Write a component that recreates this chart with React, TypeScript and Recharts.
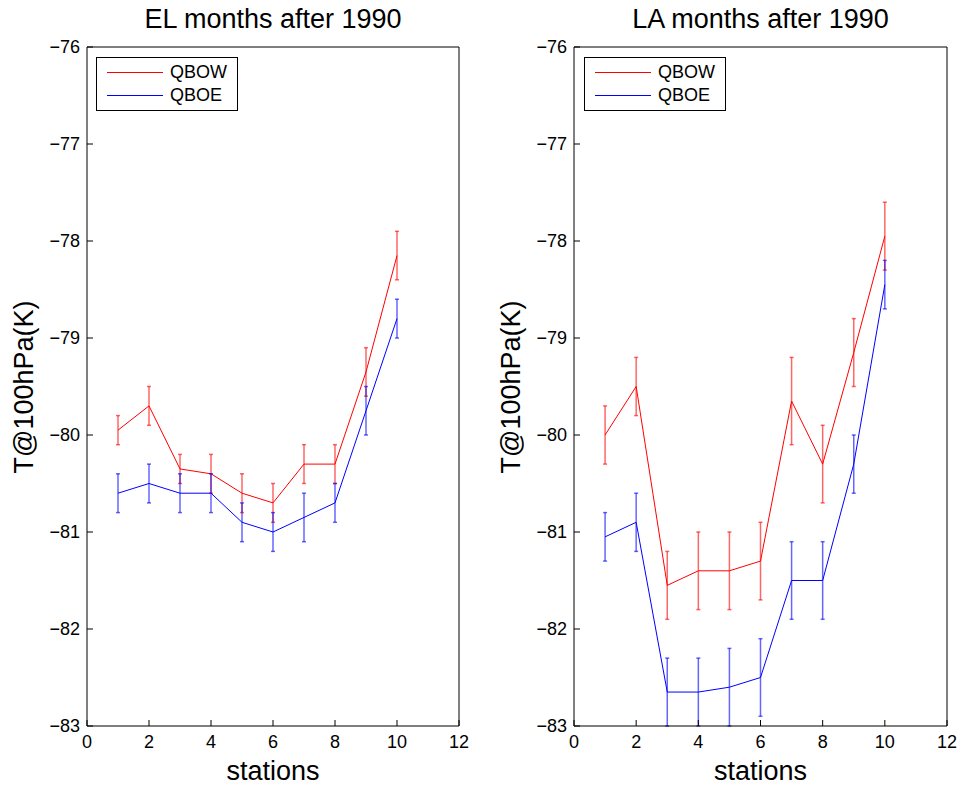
import {
  ComposedChart,
  Line,
  ErrorBar,
  XAxis,
  YAxis,
  Legend,
} from "recharts";

// station index (x)
const stations = [1, 2, 3, 4, 5, 6, 7, 8, 9, 10];

// EL months after 1990
const elQbow = [-79.95, -79.7, -80.35, -80.4, -80.6, -80.7, -80.3, -80.3, -79.35, -78.15];
const elQbowErr = [0.15, 0.2, 0.15, 0.2, 0.2, 0.2, 0.2, 0.2, 0.25, 0.25];
const elQboe = [-80.6, -80.5, -80.6, -80.6, -80.9, -81.0, -80.85, -80.7, -79.75, -78.8];
const elQboeErr = [0.2, 0.2, 0.2, 0.2, 0.2, 0.2, 0.25, 0.2, 0.25, 0.2];

// LA months after 1990
const laQbow = [-80.0, -79.5, -81.55, -81.4, -81.4, -81.3, -79.65, -80.3, -79.15, -77.95];
const laQbowErr = [0.3, 0.3, 0.35, 0.4, 0.4, 0.4, 0.45, 0.4, 0.35, 0.35];
const laQboe = [-81.05, -80.9, -82.65, -82.65, -82.6, -82.5, -81.5, -81.5, -80.3, -78.45];
const laQboeErr = [0.25, 0.3, 0.35, 0.35, 0.4, 0.4, 0.4, 0.4, 0.3, 0.25];

const seriesOrder = ["QBOW", "QBOE"];
const xTicks = [0, 2, 4, 6, 8, 10, 12];
const yTicks = [-83, -82, -81, -80, -79, -78, -77, -76];

const FONT = "'Liberation Sans', Arial, sans-serif";
const tickStyle = { fontSize: 18, fill: "#000", fontFamily: FONT };
const fmt = (v: number) => String(v).replace("-", "\u2212");

type PanelProps = {
  title: string;
  left: number;
  width: number;
  marginLeft: number;
  legendLeft: number;
  qbow: number[];
  qbowErr: number[];
  qboe: number[];
  qboeErr: number[];
};

function LegendBox({ payload }: any) {
  const items = seriesOrder
    .map((name) => (payload || []).find((p: any) => p.value === name))
    .filter(Boolean);
  return (
    <div
      style={{
        border: "1px solid #000",
        background: "#fff",
        width: 140,
        height: 52,
        fontFamily: FONT,
        fontSize: 18,
        position: "relative",
      }}
    >
      {items.map((p: any, i: number) => (
        <div
          key={p.value}
          style={{ position: "absolute", left: 10, top: 3 + i * 23, height: 22, display: "flex", alignItems: "center" }}
        >
          <div style={{ width: 56, height: 1, background: p.color, marginRight: 7 }} />
          <span>{p.value}</span>
        </div>
      ))}
    </div>
  );
}

function Panel({ title, left, width, marginLeft, legendLeft, qbow, qbowErr, qboe, qboeErr }: PanelProps) {
  const data = stations.map((s, i) => ({
    station: s,
    QBOW: qbow[i],
    QBOWerr: qbowErr[i],
    QBOE: qboe[i],
    QBOEerr: qboeErr[i],
  }));
  const plotLeft = marginLeft + 50;
  const plotRight = width - 16;
  return (
    <div style={{ position: "absolute", left, top: 0, width, height: 790 }}>
      <div
        style={{
          position: "absolute",
          left: plotLeft,
          width: plotRight - plotLeft,
          top: 4,
          textAlign: "center",
          fontFamily: FONT,
          fontSize: 27,
        }}
      >
        {title}
      </div>
      <div
        style={{
          position: "absolute",
          left: plotLeft - 63 - 150,
          top: 387 - 16,
          width: 300,
          textAlign: "center",
          fontFamily: FONT,
          fontSize: 27,
          lineHeight: "32px",
          transform: "rotate(-90deg)",
        }}
      >
        T@100hPa(K)
      </div>
      <ComposedChart
        width={width}
        height={790}
        data={data}
        margin={{ top: 46, right: 15, left: marginLeft, bottom: 0 }}
      >
        <XAxis
          xAxisId="b"
          dataKey="station"
          type="number"
          domain={[0, 12]}
          ticks={xTicks}
          tickSize={-6}
          tickMargin={15}
          height={64}
          stroke="#000"
          tick={tickStyle}
          label={{ value: "stations", position: "insideBottom", offset: 10, fontSize: 27, fill: "#000", fontFamily: FONT }}
        />
        <XAxis
          xAxisId="t"
          orientation="top"
          type="number"
          domain={[0, 12]}
          ticks={xTicks}
          tickSize={-6}
          height={1}
          stroke="#000"
          tick={false}
        />
        <YAxis
          yAxisId="l"
          type="number"
          domain={[-83, -76]}
          ticks={yTicks}
          allowDataOverflow
          tickSize={-6}
          tickMargin={13}
          width={50}
          stroke="#000"
          tick={tickStyle}
          tickFormatter={fmt}
        />
        <YAxis
          yAxisId="r"
          orientation="right"
          type="number"
          domain={[-83, -76]}
          ticks={yTicks}
          tickSize={-6}
          width={1}
          stroke="#000"
          tick={false}
        />
        <Legend
          layout="horizontal"
          verticalAlign="middle"
          align="center"
          wrapperStyle={{ left: legendLeft, top: 57, width: 142, height: 54 }}
          content={<LegendBox />}
        />
        <Line
          xAxisId="b"
          yAxisId="l"
          dataKey="QBOW"
          stroke="#ff0000"
          strokeWidth={1}
          dot={false}
          isAnimationActive={false}
        >
          <ErrorBar dataKey="QBOWerr" width={2} stroke="#ff0000" strokeOpacity={0.6} strokeWidth={1.5} direction="y" isAnimationActive={false} />
        </Line>
        <Line
          xAxisId="b"
          yAxisId="l"
          dataKey="QBOE"
          stroke="#0000ff"
          strokeWidth={1}
          dot={false}
          isAnimationActive={false}
        >
          <ErrorBar dataKey="QBOEerr" width={2} stroke="#0000ff" strokeOpacity={0.6} strokeWidth={1.5} direction="y" isAnimationActive={false} />
        </Line>
      </ComposedChart>
    </div>
  );
}

export default function App() {
  return (
    <div style={{ position: "absolute", left: 0, top: 0, width: 963, height: 790, background: "#fff" }}>
      <Panel
        title="EL months after 1990"
        left={0}
        width={475}
        marginLeft={37}
        legendLeft={96}
        qbow={elQbow}
        qbowErr={elQbowErr}
        qboe={elQboe}
        qboeErr={elQboeErr}
      />
      <Panel
        title="LA months after 1990"
        left={480}
        width={483}
        marginLeft={44}
        legendLeft={104}
        qbow={laQbow}
        qbowErr={laQbowErr}
        qboe={laQboe}
        qboeErr={laQboeErr}
      />
    </div>
  );
}
